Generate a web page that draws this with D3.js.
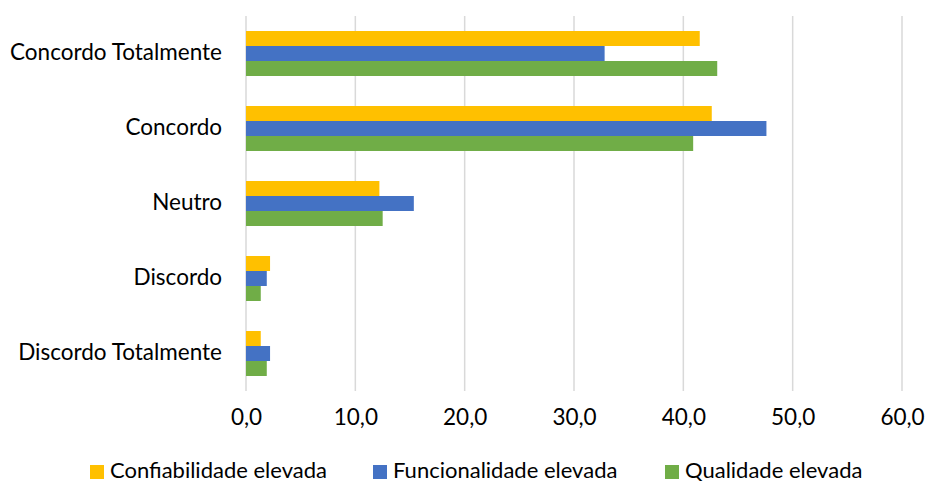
<!DOCTYPE html>
<html>
<head>
<meta charset="utf-8">
<script src="https://cdn.jsdelivr.net/npm/d3@7"></script>
<style>
  body { margin: 0; background: #fff; }
  svg text { font-family: Lato, "Open Sans", sans-serif; fill: #000; }
</style>
</head>
<body>
<svg id="chart" width="925" height="483"></svg>
<script>
// Response categories, top to bottom
const categories = ["Concordo Totalmente", "Concordo", "Neutro", "Discordo", "Discordo Totalmente"];
const seriesNames = ["Confiabilidade elevada", "Funcionalidade elevada", "Qualidade elevada"];
const seriesColors = ["#FFC000", "#4472C4", "#70AD47"];
// Percentages per category, same order as categories
const confiabilidade = [41.5, 42.6, 12.2, 2.2, 1.35];
const funcionalidade = [32.8, 47.6, 15.35, 1.9, 2.2];
const qualidade = [43.1, 40.9, 12.5, 1.35, 1.9];
const tickValues = [0, 10, 20, 30, 40, 50, 60];

const seriesValues = [confiabilidade, funcionalidade, qualidade];
const rows = categories.map((c, i) => ({
  cat: c,
  vals: seriesValues.map((s, k) => ({ key: seriesNames[k], v: s[i], color: seriesColors[k] }))
}));

const svg = d3.select("#chart");
const margin = { left: 246, right: 23, top: 16, bottom: 92 };
const W = 925, H = 483;
const fontSize = "22.5px";

const x = d3.scaleLinear().domain([0, 60]).range([margin.left, W - margin.right]);
const y = d3.scaleBand().domain(categories).range([margin.top, H - margin.bottom]).paddingInner(0.4).paddingOuter(0.2);
const ySub = d3.scaleBand().domain(seriesNames).range([0, y.bandwidth()]);

// Vertical gridlines
svg.append("g").selectAll("line").data(tickValues).join("line")
  .attr("x1", d => x(d)).attr("x2", d => x(d))
  .attr("y1", margin.top).attr("y2", H - margin.bottom)
  .attr("stroke", "#d9d9d9").attr("stroke-width", 1.5);

// Bars
const groups = svg.append("g").selectAll("g").data(rows).join("g")
  .attr("transform", d => `translate(0,${y(d.cat)})`);
groups.selectAll("rect").data(d => d.vals).join("rect")
  .attr("x", x(0))
  .attr("y", d => ySub(d.key))
  .attr("width", d => x(d.v) - x(0))
  .attr("height", ySub.bandwidth())
  .attr("fill", d => d.color);

// Category axis (labels only)
const yAxis = d3.axisLeft(y).tickSize(0).tickPadding(24);
const gy = svg.append("g").attr("transform", `translate(${margin.left},0)`).call(yAxis);
gy.select(".domain").remove();
gy.selectAll("text").style("font-size", fontSize).style("font-family", null).attr("dy", "0.3em");

// Value axis
const xAxis = d3.axisBottom(x).tickValues(tickValues).tickSize(0).tickPadding(18)
  .tickFormat(d => d3.format(".1f")(d).replace(".", ","));
const gx = svg.append("g").attr("transform", `translate(0,${H - margin.bottom})`).call(xAxis);
gx.select(".domain").remove();
gx.selectAll("text").style("font-size", fontSize).style("font-family", null);

// Legend
const legendX = [90, 373, 665];
const lg = svg.append("g").selectAll("g").data(seriesNames).join("g")
  .attr("transform", (d, i) => `translate(${legendX[i]},471)`);
lg.append("rect").attr("x", 0).attr("y", -6).attr("width", 14).attr("height", 14)
  .attr("fill", (d, i) => seriesColors[i]);
lg.append("text").attr("x", 20).attr("dy", "0.3em").style("font-size", "22px").text(d => d);
</script>
</body>
</html>
